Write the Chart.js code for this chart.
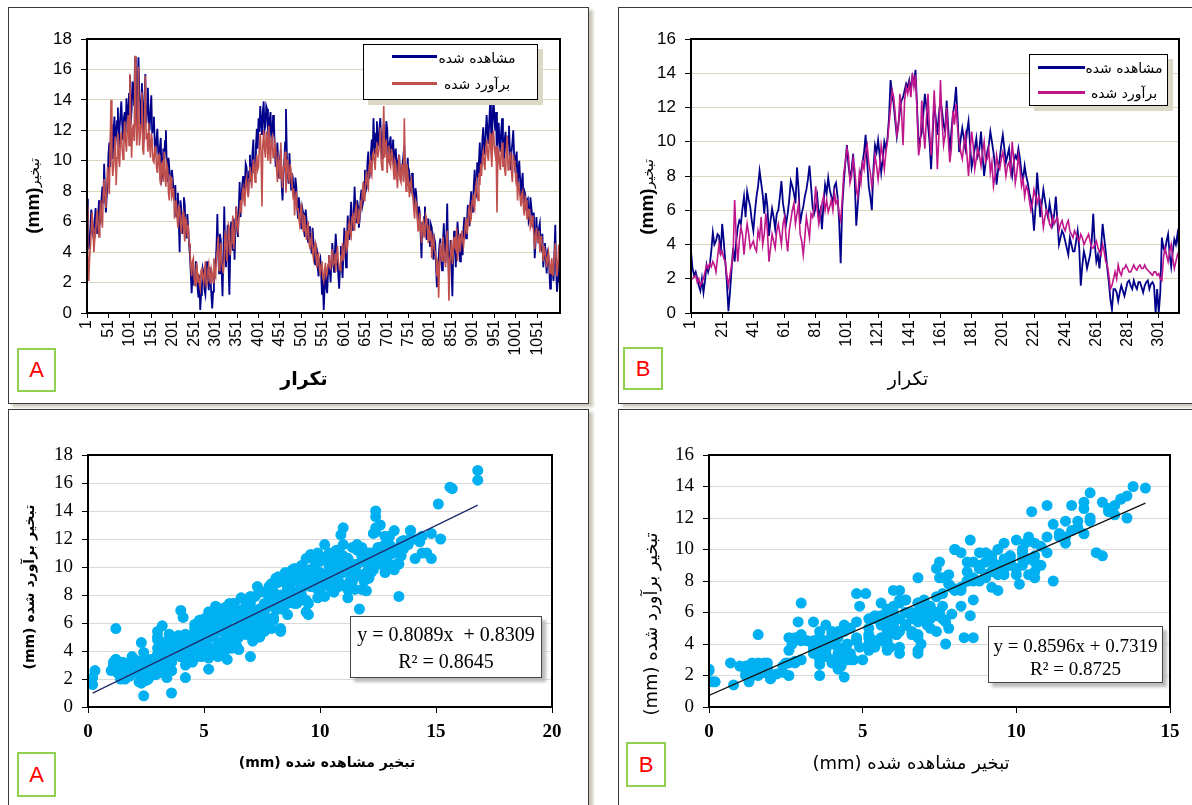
<!DOCTYPE html>
<html><head><meta charset="utf-8">
<script src="https://cdn.jsdelivr.net/npm/chart.js@4.4.0/dist/chart.umd.min.js"></script>
<style>
body{margin:0;width:1192px;height:805px;overflow:hidden;background:#fff;position:relative;font-family:"DejaVu Sans",sans-serif}
.panel{position:absolute;border:1px solid #3a3a3a;background:#fff;box-shadow:4px 3px 3px #c9c6b8}
canvas{position:absolute;left:0;top:0}
.t{position:absolute;white-space:nowrap;color:#000;transform:translate(-50%,-50%)}
.rot{transform:translate(-50%,-50%) rotate(-90deg)}
.lg{position:absolute;border:1px solid #000;background:#fff;box-shadow:5px 5px 0 #dcd8c6}
.ln{position:absolute;height:3px}
.tag{position:absolute;border:2px solid #92d050;background:#fff;color:#f00;font:22px "Liberation Sans Narrow","Liberation Sans",sans-serif;display:flex;align-items:center;justify-content:center;box-sizing:border-box}
.reg{position:absolute;border:1px solid #444;background:#fff;box-shadow:4px 4px 3px #bbb;font-family:"Liberation Serif",serif;text-align:center;box-sizing:border-box}
</style></head>
<body>
<div class="panel" style="left:8px;top:7px;width:579px;height:395px"></div>
<div class="panel" style="left:618px;top:7px;width:600px;height:395px"></div>
<div class="panel" style="left:8px;top:409px;width:579px;height:420px"></div>
<div class="panel" style="left:618px;top:409px;width:600px;height:420px"></div>

<canvas id="c1" width="1192" height="805"></canvas>
<canvas id="c2" width="1192" height="805"></canvas>
<canvas id="c3" width="1192" height="805"></canvas>
<canvas id="c4" width="1192" height="805"></canvas>

<!-- legend A -->
<div class="lg" style="left:363px;top:44px;width:173px;height:54px"></div>
<div class="ln" style="left:392px;top:55px;width:45px;background:#00008b"></div>
<div class="ln" style="left:392px;top:82px;width:45px;background:#c0504d"></div>
<div class="t" dir="rtl" style="left:477px;top:58px;font-size:14px">مشاهده شده</div>
<div class="t" dir="rtl" style="left:477px;top:84px;font-size:14px">برآورد شده</div>
<!-- legend B -->
<div class="lg" style="left:1029px;top:54px;width:137px;height:50px"></div>
<div class="ln" style="left:1038px;top:66px;width:47px;background:#00008b"></div>
<div class="ln" style="left:1038px;top:91px;width:47px;background:#c0168c"></div>
<div class="t" dir="rtl" style="left:1124px;top:68px;font-size:14px">مشاهده شده</div>
<div class="t" dir="rtl" style="left:1124px;top:93px;font-size:14px">برآورد شده</div>

<!-- axis titles -->
<div class="t rot" dir="ltr" style="left:33px;top:196px"><span style="font:bold 19px 'Liberation Sans'">(mm)</span><span style="font-size:14px">تبخیر</span></div>
<div class="t" dir="rtl" style="left:304px;top:378px;font-weight:bold;font-size:19px">تکرار</div>
<div class="t rot" dir="ltr" style="left:647px;top:197px"><span style="font:bold 19px 'Liberation Sans'">(mm)</span><span style="font-size:14px">تبخیر</span></div>
<div class="t" dir="rtl" style="left:908px;top:378px;font-size:19px">تکرار</div>
<div class="t rot" dir="rtl" style="left:29px;top:587px;font-weight:bold;font-size:14px">تبخیر برآورد شده (mm)</div>
<div class="t" dir="rtl" style="left:327px;top:762px;font-weight:bold;font-size:14px">تبخیر مشاهده شده (mm)</div>
<div class="t rot" dir="rtl" style="left:650px;top:624px;font-size:18px">تبخیر برآورد شده (mm)</div>
<div class="t" dir="rtl" style="left:911px;top:762px;font-size:18px">تبخیر مشاهده شده (mm)</div>

<!-- regression boxes -->
<div class="reg" style="left:350px;top:616px;width:192px;height:62px;font-size:20px;line-height:27px;padding-top:4px">y = 0.8089x&nbsp; + 0.8309<br>R² = 0.8645</div>
<div class="reg" style="left:988px;top:626px;width:175px;height:57px;font-size:19px;line-height:23px;padding-top:7px">y = 0.8596x + 0.7319<br>R² = 0.8725</div>

<!-- tags -->
<div class="tag" style="left:17px;top:348px;width:39px;height:44px">A</div>
<div class="tag" style="left:623px;top:347px;width:40px;height:43px">B</div>
<div class="tag" style="left:17px;top:752px;width:39px;height:45px">A</div>
<div class="tag" style="left:626px;top:742px;width:40px;height:45px">B</div>

<script>
// ---- data ----
const stepA = 2; // day step of panel A series
const stepB = 1; // day step of panel B series
const obsA = [7.5,5.0,4.2,4.9,5.6,6.8,6.3,5.2,4.8,6.0,6.9,5.8,5.2,6.4,7.4,5.9,6.1,7.6,8.3,7.2,
9.8,7.9,6.6,7.6,8.5,10.4,11.2,9.6,12.4,11.0,10.1,12.0,12.9,11.0,11.8,12.6,13.5,10.8,12.2,13.0,
13.9,12.4,11.4,12.8,13.2,11.8,14.1,13.0,12.6,14.4,15.6,12.4,13.3,15.2,14.8,13.6,16.8,13.9,12.1,14.4,
16.8,14.6,13.8,12.3,15.1,13.5,11.2,13.9,15.7,12.5,13.6,14.8,12.4,12.0,13.4,14.3,11.8,12.2,12.9,11.1,
10.4,11.4,12.1,10.6,9.8,10.9,11.5,8.8,9.1,10.8,10.2,11.3,12.0,9.6,8.6,10.2,9.5,9.0,8.2,9.4,
8.8,8.0,7.4,8.4,6.3,7.2,7.9,6.0,4.0,7.4,6.8,5.2,5.9,7.6,7.1,5.4,4.9,6.5,5.6,4.5,
3.8,2.6,1.3,2.4,3.1,1.8,2.2,3.4,2.9,1.6,1.0,2.5,0.2,1.2,1.7,2.9,2.6,1.5,1.2,2.3,
3.4,2.2,1.5,3.0,2.3,1.2,0.3,1.4,1.9,2.8,3.3,4.4,6.5,3.9,2.6,5.2,4.8,2.8,1.1,3.6,
7.0,4.6,3.0,4.4,5.8,3.2,1.2,3.9,6.0,5.0,4.1,6.2,3.5,5.4,7.0,5.8,5.0,6.9,8.6,6.3,
7.4,8.4,9.0,7.6,8.2,9.8,9.6,8.6,7.8,9.3,10.4,8.6,9.0,10.6,11.4,9.2,9.6,11.0,12.1,10.8,
12.8,11.9,13.6,12.6,11.7,13.2,13.9,12.0,12.3,13.6,13.4,12.1,10.9,12.7,13.2,11.4,11.6,13.0,12.4,10.8,
9.6,10.4,11.2,9.8,8.9,10.1,10.7,8.4,7.4,9.0,9.9,11.2,13.4,10.4,9.2,8.5,10.5,9.4,8.1,9.2,
8.9,7.8,7.6,8.9,8.3,7.0,6.2,7.6,7.0,6.2,5.5,6.9,6.6,5.4,5.0,6.8,6.1,5.0,4.6,5.7,
5.3,4.4,3.9,5.6,4.7,3.8,3.2,4.4,4.2,3.0,2.4,3.4,3.6,2.6,1.2,2.2,0.2,1.6,2.9,1.7,
1.3,2.6,3.8,2.9,2.0,3.3,4.6,3.6,2.7,4.0,5.2,4.2,3.4,2.5,1.6,3.0,4.4,3.1,2.3,4.0,
5.6,4.2,3.0,4.6,6.4,5.4,4.8,6.2,7.3,6.0,5.4,6.6,8.3,6.8,5.9,7.4,7.0,5.6,6.2,7.6,
8.1,7.0,7.3,8.6,9.4,8.0,8.2,9.9,10.6,8.8,9.2,10.5,11.4,10.0,12.8,11.2,10.4,11.8,12.6,11.0,
11.2,12.2,12.8,11.4,10.2,11.6,12.4,10.6,11.0,12.6,12.1,10.8,9.9,11.2,11.6,10.0,10.6,11.4,9.6,10.4,
10.8,9.8,9.0,10.0,10.4,9.2,8.7,9.6,9.8,10.4,11.0,9.4,8.4,9.2,10.2,8.6,9.1,8.6,7.9,9.2,
8.8,7.6,6.9,8.2,7.8,6.6,5.9,7.0,6.6,5.2,3.6,6.0,5.4,6.3,7.0,5.6,4.8,5.8,6.2,5.0,
4.4,5.8,5.6,4.4,3.5,4.9,4.6,3.0,1.7,2.8,3.6,4.5,4.9,3.4,2.8,4.6,5.9,4.2,3.3,5.0,
7.2,4.0,2.4,3.6,4.8,3.0,1.1,3.8,5.4,4.4,3.0,4.6,6.0,5.1,4.2,3.4,5.2,4.8,3.8,5.6,
6.3,5.2,4.9,6.0,7.1,6.4,5.7,7.2,8.0,7.0,6.6,8.4,9.4,8.0,7.8,9.9,9.0,10.0,11.2,9.4,
9.7,11.4,12.2,10.8,10.4,12.0,13.0,11.8,11.1,12.6,13.8,12.2,10.8,13.0,14.2,12.8,12.0,13.2,9.5,11.6,
12.5,11.2,10.6,12.0,12.8,11.0,9.8,11.4,11.9,10.6,10.2,11.6,12.3,10.8,9.4,10.6,11.2,12.0,10.4,9.6,
9.8,10.6,8.3,9.2,10.0,8.8,7.4,8.6,9.2,7.2,8.0,7.8,6.8,7.4,7.5,6.0,6.2,7.6,7.0,6.4,
5.6,6.6,3.6,4.6,6.3,5.0,4.8,5.6,5.9,4.4,4.2,5.2,3.0,3.9,4.6,3.4,2.6,4.0,3.8,2.9,
1.6,2.4,3.2,2.6,2.1,4.0,5.8,2.8,1.4,2.2,3.6,2.0];
const estA = [7.0,3.8,2.1,3.6,4.4,5.4,6.6,5.6,4.0,4.8,5.2,6.2,6.8,5.7,5.0,6.4,7.4,6.2,5.6,7.9,
8.8,7.6,6.9,8.2,9.6,8.8,7.8,10.9,14.0,10.2,9.0,9.6,10.6,11.6,8.4,10.2,11.8,10.2,9.6,11.4,
11.9,10.8,10.1,11.6,12.6,11.2,10.6,12.2,13.0,11.0,15.7,12.8,10.2,12.0,12.4,11.3,16.9,12.6,11.0,12.2,
16.2,11.0,11.6,12.4,14.5,10.8,10.4,12.6,15.6,11.4,11.8,10.6,12.5,11.0,10.2,11.8,11.4,10.0,9.9,10.6,
11.0,9.6,9.2,10.3,10.4,8.8,8.4,9.8,9.9,8.6,10.6,9.0,8.3,9.8,9.5,7.9,7.4,9.0,8.9,7.6,
7.8,8.2,6.2,7.0,7.4,6.3,5.6,7.0,6.9,5.8,5.2,6.4,6.6,5.4,4.7,6.2,6.1,5.0,5.8,4.6,
4.2,3.1,2.4,3.4,3.6,2.2,1.8,2.7,3.3,2.0,2.6,1.9,1.6,2.8,3.0,2.3,2.0,2.7,3.4,1.7,
2.1,2.8,3.2,2.4,1.9,2.9,2.6,2.0,3.6,2.6,2.4,3.8,4.1,5.0,2.8,3.5,4.6,3.4,3.0,2.6,
3.6,5.2,5.0,3.4,4.2,5.8,5.6,3.8,4.6,5.4,6.4,4.2,4.9,5.8,7.0,5.6,5.4,6.2,6.6,7.4,
6.6,7.9,8.2,7.4,7.0,8.6,8.9,8.0,7.6,8.8,9.6,9.0,8.2,9.2,10.1,9.6,8.6,9.8,10.4,9.4,
9.6,10.9,11.8,10.4,7.0,11.0,12.0,10.8,10.2,11.9,11.4,10.0,12.3,10.6,9.8,11.4,11.6,10.2,10.3,11.2,
10.8,9.5,8.6,10.2,9.9,8.8,11.2,9.0,8.2,9.6,9.6,10.6,7.9,9.4,10.1,9.0,8.5,9.8,9.2,8.4,
7.8,8.2,6.4,7.4,8.0,6.8,6.9,6.2,5.8,6.6,7.2,5.9,5.4,6.4,6.3,5.2,4.8,5.8,5.9,4.6,
4.2,4.8,5.1,4.0,3.6,4.4,4.6,3.6,3.0,3.8,3.9,2.8,2.6,3.2,3.4,2.4,2.1,2.8,3.3,2.4,
2.6,3.2,3.8,3.0,2.9,3.7,4.2,3.2,3.4,3.9,2.7,3.6,4.4,3.4,3.1,2.8,3.8,3.4,4.6,3.6,
3.8,4.6,5.4,4.2,4.4,5.8,6.0,5.2,5.0,6.3,6.6,5.8,5.4,6.8,7.1,6.2,5.9,6.6,6.4,7.2,
7.0,7.9,8.6,7.4,7.6,8.8,9.3,8.4,8.2,9.6,10.0,9.2,9.0,10.4,10.6,10.0,9.4,10.8,11.2,10.2,
10.6,11.0,12.2,10.0,9.4,11.2,13.6,10.2,10.8,11.4,9.2,10.4,11.0,9.8,9.6,10.8,10.4,9.6,8.8,10.0,
9.8,9.0,8.2,9.6,10.4,8.8,8.6,9.8,9.4,8.6,12.8,9.4,8.0,9.8,9.2,8.4,7.6,8.6,8.8,7.8,
7.6,6.8,6.2,7.4,7.2,6.4,5.4,6.0,6.6,5.6,4.6,5.8,6.0,5.0,5.2,6.4,6.2,5.4,4.6,5.8,
4.8,5.4,3.6,4.6,5.2,4.2,4.0,3.6,2.4,3.4,1.0,3.2,4.6,4.0,3.4,5.0,4.2,3.8,3.0,4.4,
5.4,3.6,0.8,3.2,4.0,4.8,3.2,3.9,5.0,4.4,4.2,5.6,3.4,4.6,5.2,4.0,4.0,5.4,4.8,4.4,
5.0,5.8,6.2,5.2,5.6,6.8,7.0,6.0,6.2,7.4,7.8,7.0,6.8,8.2,8.6,7.8,7.4,9.2,8.4,9.8,
9.0,10.2,10.6,9.8,9.4,10.8,11.4,10.4,10.0,11.2,11.8,10.6,9.6,11.6,12.0,10.8,10.4,11.0,6.6,10.2,
10.8,9.8,9.4,10.6,11.2,9.6,10.2,9.4,9.0,10.8,11.6,9.4,9.8,10.2,10.6,9.2,8.6,10.4,10.0,9.6,
8.8,9.2,7.4,8.6,8.2,7.6,7.0,7.8,8.0,6.8,6.4,7.6,7.4,6.2,6.2,6.8,6.8,5.6,5.8,6.4,
5.8,5.2,4.2,5.0,5.6,4.8,4.6,5.4,4.0,5.0,5.0,4.2,3.4,4.4,4.4,3.6,3.0,3.6,4.0,3.2,
2.6,3.2,3.6,2.4,2.8,3.8,4.6,3.4,2.4,3.0,4.5,3.4];
const obsB = [3.6,2.6,2.2,2.4,2.0,1.6,1.3,2.0,1.2,1.9,
2.8,2.4,2.8,3.6,4.7,4.0,4.2,4.6,4.5,3.4,
5.2,4.2,3.0,1.8,0.1,1.2,2.5,3.8,3.0,4.2,
5.0,5.4,5.2,6.1,6.8,5.6,7.1,6.6,6.2,5.4,
4.8,5.9,6.8,7.4,8.3,7.6,6.9,5.8,7.0,6.2,
4.5,5.4,6.1,5.6,4.9,5.8,6.0,6.8,7.7,6.4,
5.8,5.2,5.8,6.6,7.7,7.4,7.0,6.4,8.5,7.2,
5.2,5.8,6.2,6.8,7.2,7.8,8.6,7.4,6.2,5.8,
6.2,6.8,5.6,6.0,4.9,6.4,7.5,7.0,7.9,7.2,
6.8,6.4,7.4,7.6,6.8,5.4,2.9,6.2,7.6,8.8,
9.8,8.6,7.9,8.4,9.3,7.8,5.1,6.4,7.5,8.2,
8.8,9.4,10.4,8.8,7.4,6.8,6.0,8.4,9.8,9.4,
10.1,9.2,8.2,9.0,10.0,9.6,10.2,11.4,13.6,12.8,
12.2,11.2,10.3,11.0,11.8,12.4,12.6,13.0,13.4,13.2,
13.6,13.0,13.8,13.4,14.2,12.0,9.8,10.2,10.5,11.6,
12.8,12.0,11.0,10.0,8.4,10.4,12.2,11.4,10.4,11.6,
12.4,11.8,11.0,10.6,12.4,10.8,9.4,10.6,11.6,12.2,
13.2,11.4,9.4,10.2,10.8,10.2,9.6,10.6,11.2,9.8,
8.5,9.0,9.6,10.2,9.2,9.6,10.6,9.2,8.0,8.8,
9.4,9.8,10.6,10.0,9.4,8.6,7.5,8.4,9.0,9.8,
10.4,9.6,8.8,9.2,9.6,8.6,8.0,8.8,9.2,9.0,
9.6,9.0,8.2,7.8,8.6,8.0,7.6,7.0,6.6,6.0,
4.8,6.2,8.2,7.0,5.6,6.4,7.2,6.6,6.0,5.6,
6.4,5.8,5.2,5.8,6.8,5.4,4.0,4.4,4.8,4.6,
4.2,3.8,3.4,4.4,4.0,3.6,3.6,4.2,4.8,3.8,
1.6,2.8,3.6,3.2,2.6,3.0,3.4,4.2,5.8,4.0,
3.0,3.4,2.6,3.8,5.2,4.4,3.6,2.6,1.8,0.8,
0.2,1.4,1.4,1.2,0.7,1.2,1.6,1.3,1.0,1.4,
1.8,1.9,1.6,1.4,1.9,1.6,1.4,1.8,1.8,1.5,
1.2,1.6,1.8,1.9,1.4,1.7,1.8,1.6,0.0,1.4,
0.0,1.2,4.4,3.8,3.6,4.2,4.6,3.4,2.7,3.6,
4.3,4.0,4.6,3.8];
const estB = [2.0,2.0,2.1,2.2,1.8,2.0,1.6,1.8,2.0,2.4,
2.8,2.6,2.9,2.7,3.0,2.8,2.4,3.2,4.0,3.4,
3.6,3.2,3.0,2.2,1.6,2.2,2.8,3.4,6.6,4.4,
3.0,4.2,5.0,4.6,3.4,4.4,5.2,4.6,3.8,4.0,
4.2,3.8,3.6,4.8,4.4,5.6,4.0,4.6,5.8,4.8,
3.0,3.8,4.6,4.2,3.8,4.8,5.2,4.6,4.0,5.2,
5.6,4.4,3.6,4.8,5.4,6.0,6.4,5.2,5.8,6.4,
4.6,4.2,3.4,4.4,5.6,5.0,4.4,5.8,5.6,6.2,
7.4,6.0,5.2,5.8,6.4,6.8,6.0,6.6,5.9,6.2,
6.6,6.0,7.0,6.4,6.6,5.8,5.4,6.6,8.2,8.8,
9.6,9.2,7.6,8.0,9.0,8.4,7.2,6.8,8.2,7.6,
8.8,8.4,9.4,9.8,8.8,8.2,7.4,8.0,9.2,8.6,
7.8,8.6,9.8,9.2,8.4,9.4,10.0,11.0,12.0,13.0,
12.6,11.6,10.4,10.8,12.8,11.8,9.8,12.4,13.2,12.8,
13.4,12.6,14.0,13.2,13.9,11.8,9.2,9.8,12.4,10.8,
9.6,11.4,12.8,10.6,9.2,10.8,13.0,11.0,8.4,10.4,
13.6,11.2,9.8,10.4,12.0,10.2,8.8,9.6,11.8,11.0,
12.2,10.8,10.0,9.4,9.0,9.8,10.4,9.2,8.0,9.4,
10.6,9.8,8.4,9.0,9.6,9.2,8.6,9.4,10.0,8.8,
9.0,9.6,8.2,8.8,7.4,8.0,9.2,8.6,8.4,9.0,
9.4,8.8,8.0,8.6,8.8,8.2,10.0,9.0,7.6,8.2,
9.2,8.4,7.4,7.8,6.8,7.4,7.2,6.6,6.0,6.4,
7.2,6.8,6.4,6.8,6.6,6.0,5.0,5.6,6.0,5.8,
5.2,5.0,5.6,5.2,5.4,5.6,4.8,5.2,5.4,5.0,
4.8,5.2,5.4,4.8,4.6,4.4,4.8,4.6,4.4,4.2,
4.6,4.4,4.0,4.2,4.4,4.6,4.2,3.8,3.8,4.0,
4.2,3.8,3.6,3.4,4.0,3.6,3.0,2.8,2.2,1.4,
1.6,2.0,2.4,2.0,2.8,2.4,2.2,2.6,2.6,2.8,
2.6,2.4,2.4,2.6,2.8,2.6,2.5,2.7,2.8,2.6,
2.6,2.8,2.6,2.5,2.4,2.3,2.2,2.4,2.4,2.2,
2.3,2.0,1.9,3.2,3.8,3.4,3.0,3.6,4.0,3.2,
2.6,3.0,3.4,3.6];
const xTicksA = [1,51,101,151,201,251,301,351,401,451,501,551,601,651,701,751,801,851,901,951,1001,1051];
const xTicksB = [1,21,41,61,81,101,121,141,161,181,201,221,241,261,281,301];
const trendAx = [0.2, 16.8], trendAy = [0.99, 14.42];
const trendBx = [0.0, 14.2], trendBy = [0.73, 12.94];

// ---- drawing ----
const frame = {id:'frame', afterDatasetsDraw(c, a, o){
  const r = c.chartArea, ctx = c.ctx; ctx.save(); ctx.strokeStyle='#000'; ctx.lineWidth=o.width||2;
  ctx.strokeRect(r.left, r.top, r.right-r.left, r.bottom-r.top); ctx.restore(); }};

const W = 1192, H = 805;
function base(box, yW, xH){
  return {responsive:false, animation:false, devicePixelRatio:1, events:[],
    layout:{padding:{left:box.L-yW, top:box.T, right:W-box.R, bottom:H-box.B-xH}},
    plugins:{legend:{display:false}, tooltip:{enabled:false}, frame:{width:2}}};
}
function lineChart(id, obs, est, step, xTicks, xmax, ymax, estColor, box){
  const pts = arr => arr.map((v,k)=>({x:1+k*step, y:v}));
  const o = base(box, 50, 60);
  o.scales = {
    x:{type:'linear', min:1, max:xmax,
      afterBuildTicks:s=>{s.ticks = xTicks.map(v=>({value:v}));},
      afterFit:s=>{s.height=60;},
      grid:{drawOnChartArea:false, tickLength:5, tickColor:'#000'}, border:{display:false},
      ticks:{autoSkip:false, minRotation:90, maxRotation:90, padding:2, color:'#000',
        font:{family:'Liberation Sans', size:16}, callback:v=>String(v)}},
    y:{min:0, max:ymax, afterFit:s=>{s.width=50;},
      grid:{color:'#dcd7bd', tickColor:'#000', tickLength:6}, border:{display:false},
      ticks:{stepSize:2, padding:9, color:'#000', font:{family:'Liberation Sans', size:17}, callback:v=>String(v)}}};
  new Chart(document.getElementById(id), {type:'line', data:{datasets:[
    {data:pts(est), borderColor:estColor, borderWidth:1.6, pointRadius:0, tension:0, order:0},
    {data:pts(obs), borderColor:'#00008b', borderWidth:1.8, pointRadius:0, tension:0, order:1}]},
    options:o, plugins:[frame]});
}
function scatterChart(id, obs, est, tx, ty, xmax, ymax, xstep, trendColor, yFont, xFont, box){
  const o = base(box, 50, 50);
  o.scales = {
    x:{type:'linear', min:0, max:xmax, afterFit:s=>{s.height=50;},
      grid:{drawOnChartArea:false, tickLength:6, tickColor:'#000'}, border:{display:false},
      ticks:{stepSize:xstep, padding:8, color:'#000', font:xFont}},
    y:{min:0, max:ymax, afterFit:s=>{s.width=50;},
      grid:{color:'#d9d9d9', tickColor:'#000', tickLength:6}, border:{display:false},
      ticks:{stepSize:2, padding:9, color:'#000', font:yFont}}};
  new Chart(document.getElementById(id), {type:'scatter', data:{datasets:[
    {type:'line', data:tx.map((x,i)=>({x, y:ty[i]})), borderColor:trendColor, borderWidth:1.3, pointRadius:0, order:0},
    {data:obs.map((x,i)=>({x, y:est[i]})), backgroundColor:'#00b0f0', borderWidth:0, pointRadius:5.5, order:1}]},
    options:o, plugins:[frame]});
}
lineChart('c1', obsA, estA, stepA, xTicksA, 1104, 18, '#c0504d', {L:87, R:560, T:39, B:313});
lineChart('c2', obsB, estB, stepB, xTicksB, 314, 16, '#c0168c', {L:691, R:1179, T:39, B:313});
scatterChart('c3', obsA, estA, trendAx, trendAy, 20, 18, 5, '#1f2a6b',
  {family:'Liberation Serif', size:19}, {family:'Liberation Serif', size:19, weight:'bold'}, {L:88, R:552, T:455, B:707});
scatterChart('c4', obsB, estB, trendBx, trendBy, 15, 16, 5, '#111',
  {family:'Liberation Serif', size:19}, {family:'Liberation Serif', size:19, weight:'bold'}, {L:709, R:1170, T:455, B:707});
</script>
</body></html>
